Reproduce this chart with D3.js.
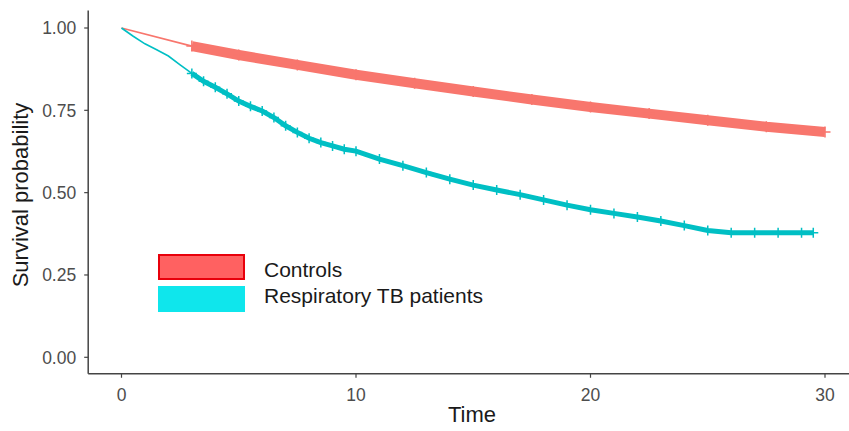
<!DOCTYPE html>
<html>
<head>
<meta charset="utf-8">
<script src="https://cdn.jsdelivr.net/npm/d3@7"></script>
<style>
    body { margin: 0; background: #fff; }
    svg { display: block; font-family: "Liberation Sans", Arial, sans-serif; }
    .axis-line { stroke: #444; stroke-width: 1.5; fill: none; }
    .tick-mark { stroke: #444; stroke-width: 1.2; }
    .tick-label { fill: #4d4d4d; font-size: 17.5px; }
    .axis-title { fill: #1a1a1a; font-size: 22px; }
    .legend-label { fill: #1a1a1a; font-size: 21px; }
</style>
</head>
<body>
<svg id="chart" width="849" height="431"></svg>
<script>
// Kaplan-Meier readings (time, survival probability)
const controlsTime = [0, 3, 5, 7.5, 10, 12.5, 15, 17.5, 20, 22.5, 25, 27.5, 30];
const controlsSurv = [1.0, 0.945, 0.918, 0.888, 0.858, 0.832, 0.807, 0.783, 0.76, 0.74, 0.72, 0.70, 0.684];

const tbTime = [0, 0.5, 1, 1.5, 2, 2.5, 3, 3.5, 4, 4.5, 5, 5.5, 6, 6.5, 7, 7.5, 8, 8.5, 9, 9.5, 10,
    11, 12, 13, 14, 15, 16, 17, 18, 19, 20, 21, 22, 23, 24, 25, 26, 27, 28, 29, 29.5];
const tbSurv = [1.0, 0.975, 0.952, 0.934, 0.915, 0.888, 0.862, 0.838, 0.82, 0.8, 0.778, 0.762, 0.748, 0.728,
    0.703, 0.683, 0.665, 0.652, 0.642, 0.632, 0.626, 0.602, 0.582, 0.561, 0.541, 0.523, 0.508, 0.494, 0.478,
    0.462, 0.448, 0.437, 0.426, 0.414, 0.4, 0.385, 0.378, 0.378, 0.378, 0.378, 0.378];

// first censored time for each group (dense "+" marks from here on)
const censorStart = [2.9, 2.9];

const groupNames = ['Controls', 'Respiratory TB patients'];
const lineColors = ['#F8766D', '#00BFC4'];
const legendFill = ['#FF6161', '#0FE6EC'];
const legendStroke = ['#E8000B', '#0FE6EC'];

const xTicks = [0, 10, 20, 30];
const yTicks = [0, 0.25, 0.5, 0.75, 1];

const svg = d3.select('#chart');

const x = d3.scaleLinear().domain([0, 30]).range([121.5, 825]);
const y = d3.scaleLinear().domain([0, 1]).range([357.3, 28]);

const axisX = x(-1.42);
const axisY = y(-0.05);

// axis lines, ggplot classic theme
svg.append('line').attr('class', 'axis-line')
    .attr('x1', axisX).attr('x2', axisX)
    .attr('y1', y(1.053)).attr('y2', axisY);
svg.append('line').attr('class', 'axis-line')
    .attr('x1', axisX).attr('x2', 849)
    .attr('y1', axisY).attr('y2', axisY);

// y ticks
const yt = svg.append('g').selectAll('g').data(yTicks).enter().append('g');
yt.append('line').attr('class', 'tick-mark')
    .attr('x1', axisX - 4).attr('x2', axisX)
    .attr('y1', d => y(d)).attr('y2', d => y(d));
yt.append('text').attr('class', 'tick-label')
    .attr('x', axisX - 12).attr('y', d => y(d))
    .attr('dy', '0.36em').attr('text-anchor', 'end')
    .text(d => d3.format('.2f')(d));

// x ticks
const xt = svg.append('g').selectAll('g').data(xTicks).enter().append('g');
xt.append('line').attr('class', 'tick-mark')
    .attr('x1', d => x(d)).attr('x2', d => x(d))
    .attr('y1', axisY).attr('y2', axisY + 4);
xt.append('text').attr('class', 'tick-label')
    .attr('x', d => x(d)).attr('y', axisY + 27)
    .attr('text-anchor', 'middle')
    .text(d => d);

// axis titles
svg.append('text').attr('class', 'axis-title')
    .attr('x', 472).attr('y', 422)
    .attr('text-anchor', 'middle')
    .text('Time');
svg.append('text').attr('class', 'axis-title')
    .attr('transform', 'translate(28,' + 195 + ') rotate(-90)')
    .attr('text-anchor', 'middle')
    .text('Survival probability');

// curves
const groups = [
    { t: controlsTime, s: controlsSurv, band: 10, mark: 5.5 },
    { t: tbTime, s: tbSurv, band: 5, mark: 5 }
];

const line = d3.line().x(d => x(d[0])).y(d => y(d[1]));

groups.forEach((g, i) => {
    const pts = g.t.map((t, j) => [t, g.s[j]]);
    const censored = pts.filter(p => p[0] >= censorStart[i]);
    const layer = svg.append('g');

    layer.append('path')
        .attr('d', line(pts))
        .attr('fill', 'none')
        .attr('stroke', lineColors[i])
        .attr('stroke-width', 1.6);

    // dense censoring marks render as a thick band
    layer.append('path')
        .attr('d', line(censored))
        .attr('fill', 'none')
        .attr('stroke', lineColors[i])
        .attr('stroke-width', g.band)
        .attr('stroke-linecap', 'butt');

    const m = g.mark;
    layer.selectAll('path.mark').data(censored).enter().append('path')
        .attr('class', 'mark')
        .attr('d', `M${-m},0H${m}M0,${-m}V${m}`)
        .attr('transform', d => 'translate(' + x(d[0]) + ',' + y(d[1]) + ')')
        .attr('stroke', lineColors[i])
        .attr('stroke-width', 1.5);
});

// legend
const legend = svg.append('g').selectAll('g').data(groupNames).enter().append('g')
    .attr('transform', (d, i) => 'translate(158,' + (255 + i * 32) + ')');
legend.append('rect')
    .attr('x', 1).attr('y', 0)
    .attr('width', 85).attr('height', 24)
    .attr('fill', (d, i) => legendFill[i])
    .attr('stroke', (d, i) => legendStroke[i])
    .attr('stroke-width', 2);
legend.append('text').attr('class', 'legend-label')
    .attr('x', 106).attr('y', (d, i) => 22 - i * 6)
    .text(d => d);
</script>
</body>
</html>
